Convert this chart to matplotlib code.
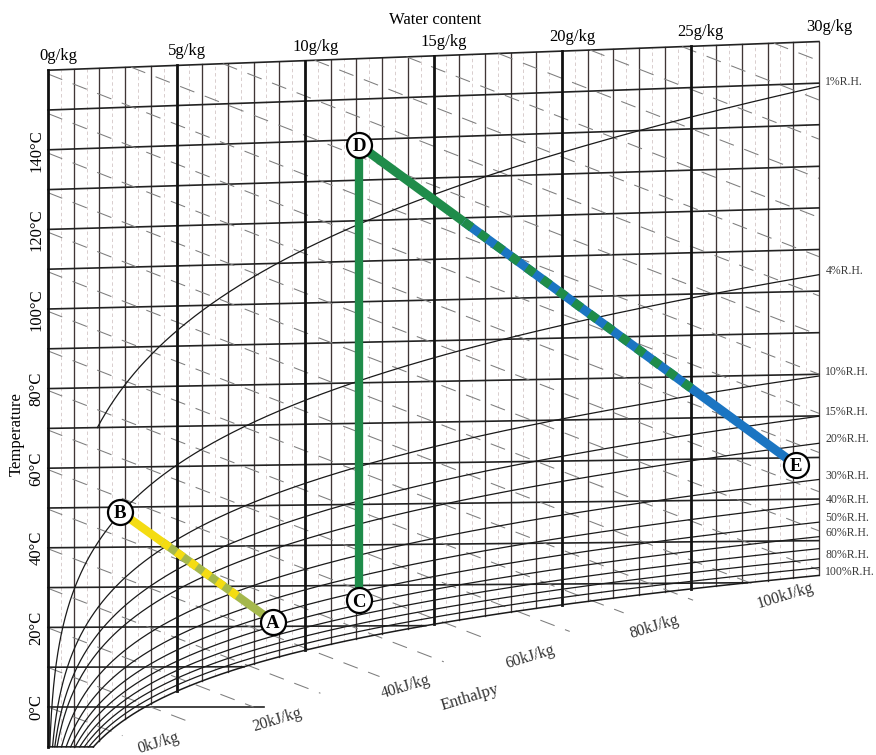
import numpy as np
import matplotlib.pyplot as plt
from matplotlib.transforms import Transform

plt.rcParams['font.family'] = ['Liberation Serif', 'DejaVu Serif']
plt.rcParams['lines.scale_dashes'] = False

# --- values ---
pressure = 101.325          # kPa, chart drawn for 1 atm
rh_levels = [1, 4, 10, 15, 20, 30, 40, 50, 60, 70, 80, 90, 100]
rh_labelled = [1, 4, 10, 15, 20, 30, 40, 50, 60, 80, 100]
rh_first_temp = {1: 70}     # the 1% line only starts at 70 C
temp_lines = list(range(-10, 161, 10))
temp_labels = [0, 20, 40, 60, 80, 100, 120, 140]
water_lines = list(range(0, 31))
water_labels = [0, 5, 10, 15, 20, 25, 30]
zero_line_end = 8.4         # the 0 C line runs on past the saturation curve
enthalpy_levels = list(range(0, 241, 10))
enthalpy_ext = [2.9, 5.7, 8.0, 10.6, 12.9, 15.4, 17.2, 20.3, 22.4, 25.1, 27.4]
enthalpy_labels = [0, 20, 40, 60, 80, 100]

point_names = ['A', 'B', 'C', 'D', 'E']
point_water = [8.75, 2.8, 12.1, 12.1, 29.1]
point_temp = [21.2, 48.9, 26.4, 138.7, 58.3]

# label positions (layout)
enthalpy_label_pos = [(4.3, -8.9), (8.9, -3.2), (13.9, 4.9), (18.75, 12.2),
                      (23.6, 19.4), (28.7, 26.7)]

GREEN = '#1f8c4a'
BLUE = '#1b75c2'
YELLOW = '#f4dc12'
OLIVE = '#a5b84c'


class Keystone(Transform):
    """scan of the chart is slightly keystoned: rows lift towards the right"""
    input_dims = output_dims = 2
    has_inverse = True

    def __init__(self, k, inverse=False):
        super().__init__()
        self.k = k
        self.inverse = inverse

    def transform_non_affine(self, xy):
        xy = np.asarray(xy, float)
        w, t = xy[..., 0], xy[..., 1]
        f = 1 + self.k * w
        t2 = t / f if self.inverse else t * f
        return np.stack([w, t2], axis=-1)

    def inverted(self):
        return Keystone(self.k, not self.inverse)


def p_sat(t):
    tk = t + 273.15
    tau = 1 - tk / 647.096
    s = (-7.85951783 * tau + 1.84408259 * tau ** 1.5 - 11.7866497 * tau ** 3
         + 22.6807411 * tau ** 3.5 - 15.9618719 * tau ** 4 + 1.80122502 * tau ** 7.5)
    return 22064.0 * np.exp(647.096 / tk * s)


def moisture(t, rh):
    pv = rh / 100 * p_sat(t)
    return 622 * pv / (pressure - pv)


t_fine = np.linspace(-10, 160, 3401)
t_low = t_fine[t_fine <= 60]
w_low = moisture(t_low, 100)


def dew_temp(w):
    return np.interp(w, w_low, t_low)


fig = plt.figure(figsize=(8.76, 7.55), dpi=100)
ax = fig.add_axes([0, 0, 1, 1])
kt = Keystone(0.0015)
tr = kt + ax.transData

# faint half g/kg lines
for w in np.arange(0.5, 30, 1.0):
    ax.plot([w, w], [max(-10, dew_temp(w)), 160], color='#d3c6c6', lw=0.6,
            ls=(0, (2.5, 2)), transform=tr, zorder=1)

# water content lines
for w in water_lines:
    lo = max(-10, dew_temp(w))
    if w % 5 == 0 and w < 30:
        ax.plot([w, w], [lo, 160], color='#111111', lw=2.0, transform=tr, zorder=3)
    else:
        ax.plot([w, w], [lo, 160], color='#403636', lw=0.95, transform=tr, zorder=2)

# temperature lines
for t in temp_lines:
    end = min(30, float(moisture(t, 100))) if t < 40 else 30
    if t == 0:
        end = zero_line_end
    ax.plot([0, end], [t, t], color='#222222', lw=1.2, transform=tr, zorder=2)

# relative humidity curves
for rh in rh_levels:
    t = t_fine[t_fine >= rh_first_temp.get(rh, -10)]
    pv = rh / 100 * p_sat(t)
    good = pv < 0.5 * pressure
    t, w = t[good], moisture(t[good], rh)
    inside = w <= 30
    wc, tc = list(w[inside]), list(t[inside])
    wc.append(30)
    tc.append(np.interp(30, w, t))
    lw = 1.1 if rh == 100 else 0.9
    ax.plot(wc, tc, color='#1a1a1a', lw=lw, transform=tr, zorder=3)
    if rh in rh_labelled:
        ax.text(30.25, tc[-1] + 0.9, f'{rh}%R.H.', fontsize=8.5, color='#3a3a3a',
                ha='left', va='center', transform=tr)

# enthalpy lines (dashed)
for i, h in enumerate(enthalpy_levels):
    lo = max(0, (h - 1.006 * 160) / (2.501 + 0.00186 * 160))
    hi = enthalpy_ext[i] if h <= 100 else 30
    w = np.linspace(lo, hi, 40)
    t = (h - 2.501 * w) / (1.006 + 0.00186 * w)
    ax.plot(w, t, color='#7d7d7d', lw=0.75, ls=(0, (11, 8)), transform=tr, zorder=2)

for h, (w, t) in zip(enthalpy_labels, enthalpy_label_pos):
    ax.text(w, t, f'{h}kJ/kg', rotation=17, fontsize=11.5, color='#333333',
            ha='center', va='center', transform=tr)
ax.text(16.4, 2.2, 'Enthalpy', rotation=17, fontsize=12, color='#333333',
        ha='center', va='center', transform=tr)

# axis texts
for w in water_labels:
    ax.text(w + 0.4, 163.4, f'{w}g/kg', fontsize=12, ha='center', va='center',
            transform=tr)
ax.text(15.05, 168.8, 'Water content', fontsize=12, ha='center', va='center',
        transform=tr)
for t in temp_labels:
    ax.text(-0.45, t, f'{t}°C', fontsize=12, rotation=90, ha='center',
            va='center', transform=tr)
ax.text(-1.2, 68.8, 'Temperature', fontsize=12, rotation=90, ha='center',
        va='center', transform=tr)

# process lines
pts = {n: (w, t) for n, w, t in zip(point_names, point_water, point_temp)}
kinv = kt.inverted()


def along(p, q, s):
    a, b = kt.transform(p), kt.transform(q)
    return kinv.transform(a + s * (b - a))


def seg(p, q, color, lw, ls='-'):
    ax.plot([p[0], q[0]], [p[1], q[1]], color=color, lw=lw, ls=ls,
            solid_capstyle='butt', dash_capstyle='butt', transform=tr, zorder=4)


B, A, C, D, E = pts['B'], pts['A'], pts['C'], pts['D'], pts['E']
# B -> A: yellow, mixed, olive
b1, b2 = along(B, A, 0.28), along(B, A, 0.79)
seg(B, b1, YELLOW, 6)
seg(b1, A, OLIVE, 6)
seg(b1, b2, YELLOW, 6, ls=(0, (6, 6)))
# C -> D green
seg(C, D, GREEN, 6)
# D -> E: green, mixed, blue
d1, d2 = along(D, E, 0.24), along(D, E, 0.76)
seg(D, d1, GREEN, 6.5)
seg(d1, E, BLUE, 6.5)
seg(d1, d2, GREEN, 6.5, ls=(0, (7, 7)))

ax.plot(point_water, point_temp, 'o', ms=18, mfc='white', mec='black', mew=1.6,
        transform=tr, zorder=5)
for n, w, t in zip(point_names, point_water, point_temp):
    ax.text(w, t, n, fontsize=13.5, fontweight='bold', ha='center',
            va='center_baseline', transform=tr, zorder=6)

ax.set_xlim(-48 / 25.7, 828 / 25.7)
ax.set_ylim(-48 / 3.98, 707 / 3.98)
ax.axis('off')

fig.savefig('out.png', dpi=100)
